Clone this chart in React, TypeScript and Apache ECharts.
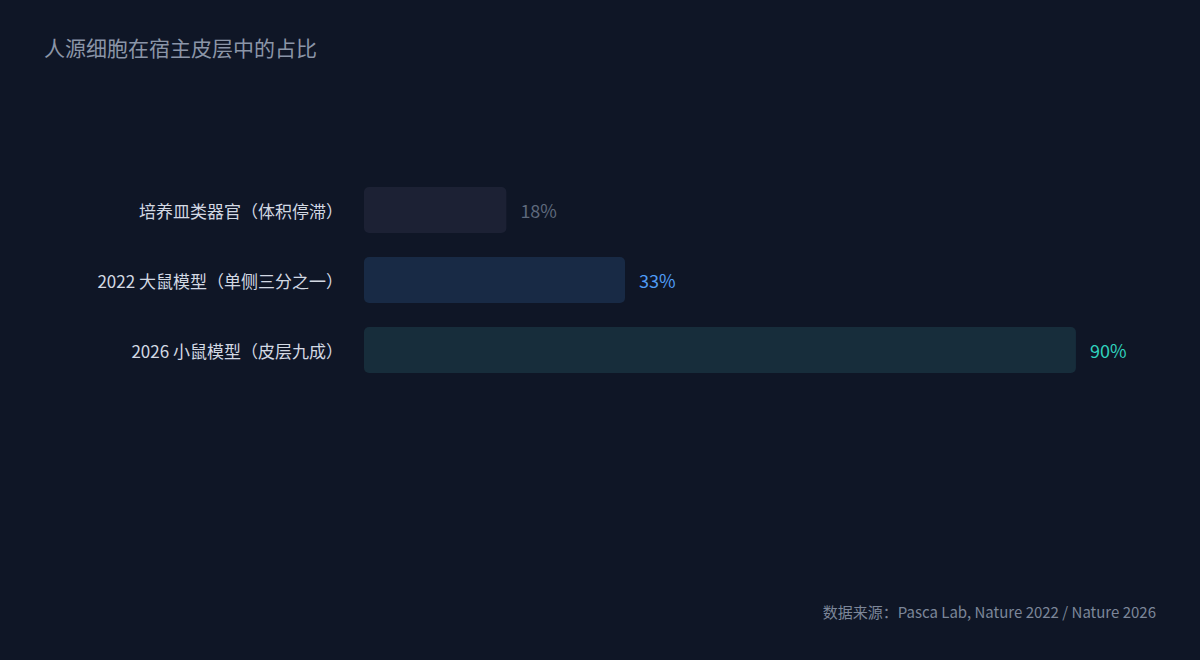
import * as echarts from "echarts"
import { useEffect, useRef } from "react"

const categories = ["培养皿类器官（体积停滞）", "2022 大鼠模型（单侧三分之一）", "2026 小鼠模型（皮层九成）"]
const values = [18, 33, 90]
const barColors = ["#1c2134", "#182a45", "#172d3b"]
const labelColors = ["#5e697c", "#4f9cf5", "#2fd1bd"]

const FONT = "'Noto Sans CJK SC', 'Noto Sans', sans-serif"

export default function App() {
  const ref = useRef<HTMLDivElement>(null)

  useEffect(() => {
    if (!ref.current) return
    const chart = echarts.init(ref.current, null, { renderer: "svg" })

    chart.setOption({
      animation: false,
      backgroundColor: "#0f1626",
      textStyle: { fontFamily: FONT },
      title: {
        text: "人源细胞在宿主皮层中的占比",
        left: 44,
        top: 36,
        padding: 0,
        textStyle: { color: "#8b95a7", fontSize: 21, fontWeight: "normal", fontFamily: FONT },
      },
      graphic: [
        {
          type: "text",
          right: 44,
          top: 604,
          style: {
            text: "数据来源：Pasca Lab, Nature 2022 / Nature 2026",
            fill: "#7c8699",
            fontSize: 15,
            fontFamily: FONT,
          },
        },
      ],
      grid: { left: 364, right: 45, top: 175, height: 210 },
      xAxis: { type: "value", min: 0, max: 100, show: false },
      yAxis: {
        type: "category",
        inverse: true,
        data: categories,
        axisLine: { show: false },
        axisTick: { show: false },
        axisLabel: { color: "#d3d9e3", fontSize: 17, margin: 21, fontFamily: FONT, padding: [4, 0, 0, 0] },
      },
      series: [
        {
          type: "bar",
          barWidth: 46,
          data: values.map((v, i) => ({
            value: v,
            itemStyle: { color: barColors[i], borderRadius: 5 },
            label: { color: labelColors[i] },
          })),
          label: {
            show: true,
            position: "right",
            distance: 14,
            fontSize: 18,
            fontFamily: FONT,
            padding: [4, 0, 0, 0],
            formatter: "{c}%",
          },
        },
      ],
    })

    return () => chart.dispose()
  }, [])

  return <div ref={ref} style={{ position: "absolute", left: 0, top: 0, width: 1200, height: 660 }} />
}
